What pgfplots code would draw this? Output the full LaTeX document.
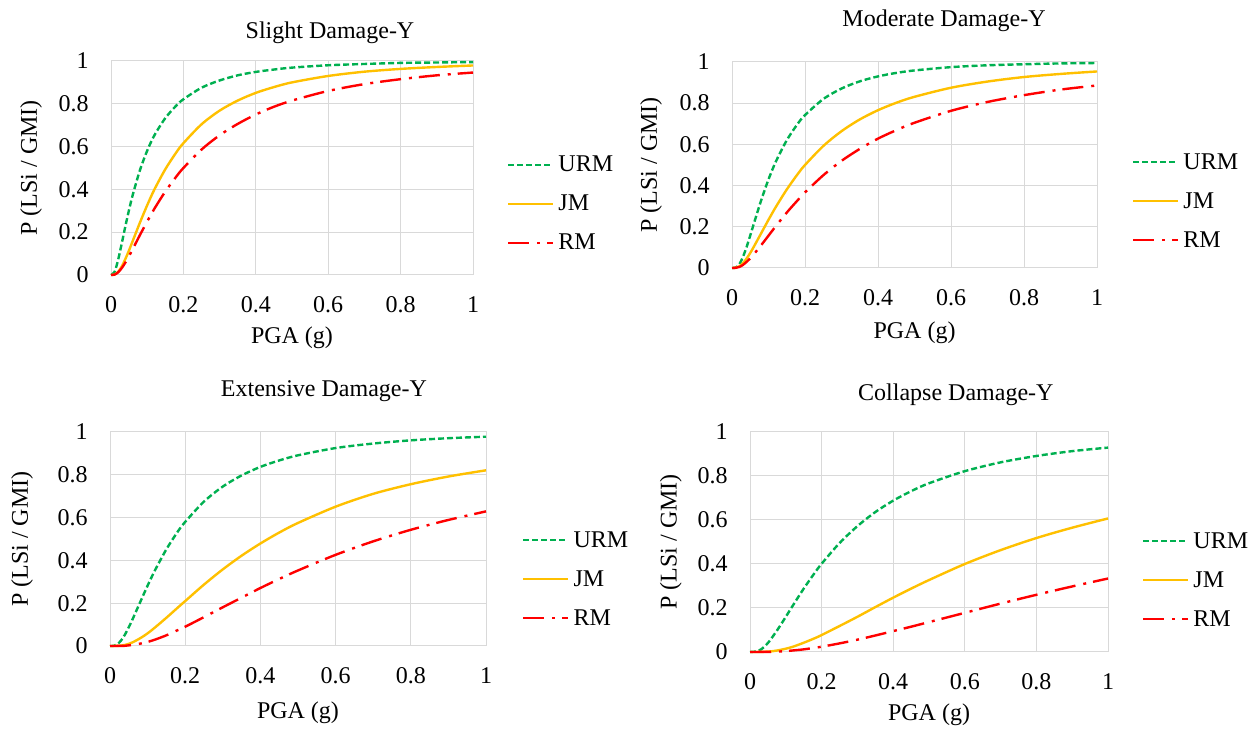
\documentclass[border=0pt]{standalone}
\usepackage{fontspec}
\setmainfont{Liberation Serif}
\usepackage{pgfplots}
\pgfplotsset{compat=1.18}
\definecolor{urmgreen}{HTML}{00B050}
\definecolor{jmorange}{HTML}{FFC000}
\definecolor{rmred}{HTML}{FF0000}
\definecolor{gridgray}{HTML}{D9D9D9}
\pgfplotsset{
  frag/.style={
    scale only axis,
    xmin=0, xmax=1, ymin=0, ymax=1,
    xtick={0,0.2,0.4,0.6,0.8,1},
    ytick={0,0.2,0.4,0.6,0.8,1},
    grid=major,
    grid style={gridgray, line width=0.5pt},
    axis line style={gridgray, line width=0.5pt},
    major tick length=0pt,
    clip=false,
    font=\fontsize{12}{14}\selectfont,
    /pgf/number format/assume math mode=true,
    /pgf/number format/fixed,
    xticklabel style={anchor=center, yshift=-15pt},
    yticklabel style={anchor=east, inner sep=0pt, xshift=-11pt},
    xlabel={PGA (g)},
    ylabel={P (LSi / GMI)},
    legend cell align=left,
    legend image code/.code={\draw[##1] (0pt,0pt) -- (22.5pt,0pt);},
  },
  urm/.style={urmgreen, line width=1.2pt, dash pattern=on 3pt off 1.5pt, smooth},
  jm/.style={jmorange, line width=1.2pt, solid, smooth},
  rm/.style={rmred, line width=1.2pt, dash pattern=on 10.5pt off 4pt on 1.5pt off 3.5pt, smooth},
}
\begin{document}
\begin{tikzpicture}
\useasboundingbox (0pt,0pt) rectangle (628pt,365.5pt);

% ---------------- Slight ----------------
\begin{axis}[frag, at={(55.5pt,228pt)}, anchor=south west, width=181pt, height=107pt,
  xlabel style={at={(axis description cs:0.5,-0.294)}, anchor=center},
  ylabel style={at={(axis description cs:-0.221,0.5)}, anchor=center},
  legend style={at={(axis description cs:1.094,0.332)}, anchor=west, draw=none, fill=none, inner sep=0pt, outer sep=0pt, row sep=8.5pt, column sep=2pt, cells={anchor=west}, nodes={inner sep=0pt, text height=9pt, text depth=2pt}}]
\addplot[urm] coordinates {(0,0) (0.01,0.015) (0.02,0.073) (0.03,0.150) (0.04,0.230) (0.05,0.305) (0.06,0.374) (0.08,0.490) (0.1,0.581) (0.12,0.653) (0.15,0.733) (0.18,0.791) (0.2,0.821) (0.25,0.875) (0.3,0.909) (0.35,0.933) (0.4,0.949) (0.45,0.960) (0.5,0.969) (0.6,0.980) (0.7,0.986) (0.8,0.991) (0.9,0.993) (1,0.995)};
\addlegendentry{URM}
\addplot[jm] coordinates {(0,0) (0.01,0.002) (0.02,0.015) (0.03,0.041) (0.04,0.076) (0.05,0.116) (0.06,0.159) (0.08,0.245) (0.1,0.326) (0.12,0.400) (0.15,0.494) (0.18,0.572) (0.2,0.616) (0.25,0.704) (0.3,0.768) (0.35,0.815) (0.4,0.851) (0.45,0.878) (0.5,0.900) (0.6,0.930) (0.7,0.950) (0.8,0.963) (0.9,0.972) (1,0.979)};
\addlegendentry{JM}
\addplot[rm] coordinates {(0,0) (0.01,0.002) (0.02,0.013) (0.03,0.033) (0.04,0.059) (0.05,0.089) (0.06,0.121) (0.08,0.187) (0.1,0.250) (0.12,0.310) (0.15,0.390) (0.18,0.459) (0.2,0.500) (0.25,0.586) (0.3,0.653) (0.35,0.706) (0.4,0.750) (0.45,0.786) (0.5,0.815) (0.6,0.860) (0.7,0.892) (0.8,0.915) (0.9,0.933) (1,0.946)};
\addlegendentry{RM}
\node[anchor=center, inner sep=0pt] at (axis description cs:0.605,1.131) {Slight Damage-Y};
\end{axis}

% ---------------- Moderate ----------------
\begin{axis}[frag, at={(366pt,231.5pt)}, anchor=south west, width=182.5pt, height=103pt,
  xlabel style={at={(axis description cs:0.5,-0.316)}, anchor=center},
  ylabel style={at={(axis description cs:-0.222,0.5)}, anchor=center},
  legend style={at={(axis description cs:1.096,0.325)}, anchor=west, draw=none, fill=none, inner sep=0pt, outer sep=0pt, row sep=8.5pt, column sep=2pt, cells={anchor=west}, nodes={inner sep=0pt, text height=9pt, text depth=2pt}}]
\addplot[urm] coordinates {(0,0) (0.01,0.002) (0.02,0.018) (0.03,0.054) (0.04,0.102) (0.05,0.158) (0.06,0.216) (0.08,0.329) (0.1,0.430) (0.12,0.516) (0.15,0.620) (0.18,0.700) (0.2,0.742) (0.25,0.820) (0.3,0.871) (0.35,0.906) (0.4,0.930) (0.45,0.947) (0.5,0.959) (0.6,0.975) (0.7,0.984) (0.8,0.989) (0.9,0.993) (1,0.995)};
\addlegendentry{URM}
\addplot[jm] coordinates {(0,0) (0.01,0.001) (0.02,0.008) (0.03,0.023) (0.04,0.046) (0.05,0.073) (0.06,0.104) (0.08,0.169) (0.1,0.234) (0.12,0.296) (0.15,0.381) (0.18,0.456) (0.2,0.500) (0.25,0.592) (0.3,0.664) (0.35,0.721) (0.4,0.766) (0.45,0.802) (0.5,0.831) (0.6,0.875) (0.7,0.905) (0.8,0.927) (0.9,0.942) (1,0.954)};
\addlegendentry{JM}
\addplot[rm] coordinates {(0,0) (0.01,0.001) (0.02,0.005) (0.03,0.015) (0.04,0.030) (0.05,0.047) (0.06,0.067) (0.08,0.111) (0.1,0.157) (0.12,0.203) (0.15,0.269) (0.18,0.329) (0.2,0.367) (0.25,0.450) (0.3,0.520) (0.35,0.578) (0.4,0.628) (0.45,0.669) (0.5,0.705) (0.6,0.763) (0.7,0.806) (0.8,0.839) (0.9,0.866) (1,0.886)};
\addlegendentry{RM}
\node[anchor=center, inner sep=0pt] at (axis description cs:0.581,1.199) {Moderate Damage-Y};
\end{axis}

% ---------------- Extensive ----------------
\begin{axis}[frag, at={(55pt,42.5pt)}, anchor=south west, width=188pt, height=107pt,
  xlabel style={at={(axis description cs:0.5,-0.313)}, anchor=center},
  ylabel style={at={(axis description cs:-0.234,0.5)}, anchor=center},
  legend style={at={(axis description cs:1.096,0.313)}, anchor=west, draw=none, fill=none, inner sep=0pt, outer sep=0pt, row sep=8.5pt, column sep=2pt, cells={anchor=west}, nodes={inner sep=0pt, text height=9pt, text depth=2pt}}]
\addplot[urm] coordinates {(0,0) (0.01,0.001) (0.02,0.009) (0.03,0.027) (0.04,0.054) (0.05,0.088) (0.06,0.125) (0.08,0.204) (0.1,0.282) (0.12,0.355) (0.15,0.452) (0.18,0.534) (0.2,0.580) (0.25,0.675) (0.3,0.745) (0.35,0.797) (0.4,0.837) (0.45,0.867) (0.5,0.891) (0.6,0.925) (0.7,0.946) (0.8,0.961) (0.9,0.971) (1,0.978)};
\addlegendentry{URM}
\addplot[jm] coordinates {(0,0) (0.02,0.0005) (0.03,0.002) (0.04,0.005) (0.05,0.010) (0.06,0.017) (0.08,0.036) (0.1,0.059) (0.12,0.087) (0.15,0.132) (0.18,0.179) (0.2,0.210) (0.25,0.287) (0.3,0.358) (0.35,0.422) (0.4,0.479) (0.45,0.530) (0.5,0.575) (0.6,0.651) (0.7,0.711) (0.8,0.756) (0.9,0.792) (1,0.821)};
\addlegendentry{JM}
\addplot[rm] coordinates {(0,0) (0.03,0.0004) (0.04,0.001) (0.05,0.003) (0.06,0.005) (0.08,0.011) (0.1,0.019) (0.12,0.030) (0.15,0.050) (0.18,0.074) (0.2,0.090) (0.25,0.135) (0.3,0.181) (0.35,0.226) (0.4,0.271) (0.45,0.313) (0.5,0.353) (0.6,0.426) (0.7,0.489) (0.8,0.543) (0.9,0.589) (1,0.629)};
\addlegendentry{RM}
\node[anchor=center, inner sep=0pt] at (axis description cs:0.569,1.192) {Extensive Damage-Y};
\end{axis}

% ---------------- Collapse ----------------
\begin{axis}[frag, at={(375pt,39.5pt)}, anchor=south west, width=179pt, height=110pt,
  xlabel style={at={(axis description cs:0.5,-0.286)}, anchor=center},
  ylabel style={at={(axis description cs:-0.221,0.5)}, anchor=center},
  legend style={at={(axis description cs:1.095,0.327)}, anchor=west, draw=none, fill=none, inner sep=0pt, outer sep=0pt, row sep=8.5pt, column sep=2pt, cells={anchor=west}, nodes={inner sep=0pt, text height=9pt, text depth=2pt}}]
\addplot[urm] coordinates {(0,0) (0.02,0.003) (0.03,0.011) (0.04,0.024) (0.05,0.041) (0.06,0.062) (0.08,0.109) (0.1,0.160) (0.12,0.212) (0.15,0.288) (0.18,0.358) (0.2,0.401) (0.25,0.495) (0.3,0.572) (0.35,0.636) (0.4,0.688) (0.45,0.731) (0.5,0.767) (0.6,0.822) (0.7,0.862) (0.8,0.891) (0.9,0.913) (1,0.929)};
\addlegendentry{URM}
\addplot[jm] coordinates {(0,0) (0.03,0.0003) (0.04,0.001) (0.05,0.002) (0.06,0.003) (0.08,0.008) (0.1,0.015) (0.12,0.024) (0.15,0.042) (0.18,0.062) (0.2,0.077) (0.25,0.118) (0.3,0.160) (0.35,0.204) (0.4,0.247) (0.45,0.288) (0.5,0.327) (0.6,0.400) (0.7,0.463) (0.8,0.518) (0.9,0.565) (1,0.607)};
\addlegendentry{JM}
\addplot[rm] coordinates {(0,0) (0.05,0.0005) (0.06,0.001) (0.08,0.002) (0.1,0.004) (0.12,0.007) (0.15,0.012) (0.18,0.019) (0.2,0.024) (0.25,0.039) (0.3,0.056) (0.35,0.075) (0.4,0.095) (0.45,0.115) (0.5,0.136) (0.6,0.178) (0.7,0.220) (0.8,0.260) (0.9,0.298) (1,0.334)};
\addlegendentry{RM}
\node[anchor=center, inner sep=0pt] at (axis description cs:0.575,1.168) {Collapse Damage-Y};
\end{axis}
\end{tikzpicture}
\end{document}
